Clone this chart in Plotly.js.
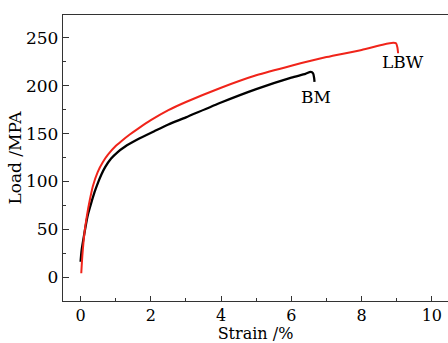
<!DOCTYPE html>
<html>
<head>
<meta charset="utf-8">
<script src="https://cdn.plot.ly/plotly-3.0.1.min.js"></script>
<style>html,body{margin:0;padding:0;background:#fff;}#chart{width:448px;height:343px;}</style>
</head>
<body>
<div id="chart"></div>
<script>
// LBW (red) strain (%) and load (MPa)
const lbwStrain = [0.02, 0.05, 0.11, 0.18, 0.26, 0.35, 0.49, 0.64, 0.78, 1.0, 1.16, 1.4, 1.65, 2.0, 2.5, 3.0, 4.0, 5.0, 6.0, 7.0, 8.0, 8.6, 8.9, 8.98, 9.02, 9.04];
const lbwLoad   = [4, 22, 46, 64, 80, 95, 110, 120.5, 128, 137, 142, 149, 155.5, 164, 174.5, 183, 198, 211, 221, 230, 237.5, 243, 245, 244.5, 240, 234];
// BM (black)
const bmStrain = [0.0, 0.03, 0.11, 0.2, 0.3, 0.4, 0.5, 0.59, 0.7, 0.87, 1.05, 1.25, 1.63, 2.1, 2.5, 3.0, 4.0, 5.0, 6.0, 6.4, 6.55, 6.62, 6.65, 6.66];
const bmLoad   = [16, 28, 46, 64, 77, 89, 99, 107, 115, 124, 130.5, 136, 144, 152.5, 159.5, 167, 182.5, 196.5, 208.5, 212.5, 214.5, 213, 208, 204];
const seriesNames = ["BM", "LBW"];
const xTitle = "Strain /%";
const yTitle = "Load /MPA";

const font = "DejaVu Serif, Liberation Serif, serif";
const traces = [
  {x: bmStrain, y: bmLoad, mode: "lines", name: seriesNames[0], line: {color: "#000000", width: 2.3, shape: "spline", smoothing: 0.6}},
  {x: lbwStrain, y: lbwLoad, mode: "lines", name: seriesNames[1], line: {color: "#f0241a", width: 2, shape: "spline", smoothing: 0.6}}
];
const layout = {
  width: 448, height: 343,
  margin: {l: 63, r: 0, t: 15, b: 42},
  paper_bgcolor: "#fff", plot_bgcolor: "#fff",
  showlegend: false,
  font: {family: font, size: 17, color: "#000"},
  xaxis: {
    range: [-0.5, 10.46], tickvals: [0, 2, 4, 6, 8, 10], ticks: "inside", ticklen: 5, tickcolor: "#333",
    minor: {tickvals: [1, 3, 5, 7, 9], ticks: "inside", ticklen: 3, tickcolor: "#333"},
    showline: true, linecolor: "#333", linewidth: 1.2, mirror: true, showgrid: false, zeroline: false,
    title: {text: xTitle, font: {family: font, size: 16}, standoff: 2},
    tickfont: {family: font, size: 16}, automargin: true
  },
  yaxis: {
    range: [-25, 274], tickvals: [0, 50, 100, 150, 200, 250], ticks: "inside", ticklen: 6, tickcolor: "#333",
    minor: {tickvals: [25, 75, 125, 175, 225], ticks: "inside", ticklen: 3, tickcolor: "#333"},
    showline: true, linecolor: "#333", linewidth: 1.2, mirror: false, showgrid: false, zeroline: false,
    title: {text: yTitle, font: {family: font, size: 17}, standoff: 0},
    tickfont: {family: font, size: 17}, automargin: true
  },
  annotations: [
    {x: 6.69, y: 188.5, xref: "x", yref: "y", text: seriesNames[0], showarrow: false, font: {family: font, size: 17}},
    {x: 9.17, y: 224.7, xref: "x", yref: "y", text: seriesNames[1], showarrow: false, font: {family: font, size: 17}}
  ]
};
Plotly.newPlot("chart", traces, layout, {displayModeBar: false, staticPlot: true});
</script>
</body>
</html>
